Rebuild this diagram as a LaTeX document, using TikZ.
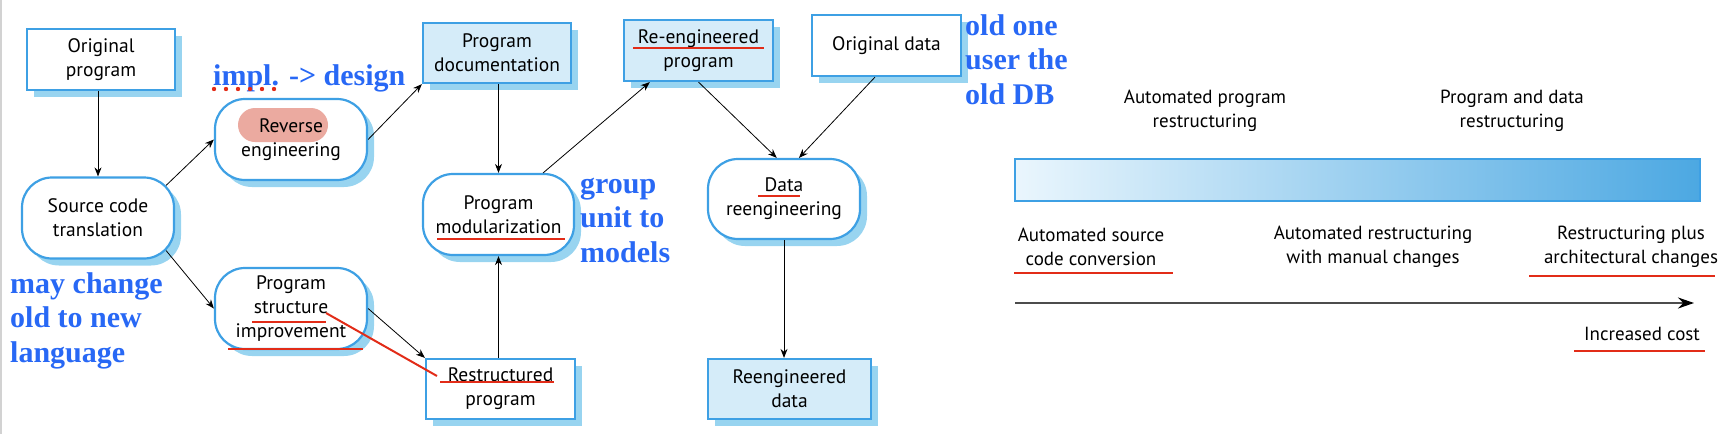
\documentclass[tikz,border=0pt]{standalone}
\usepackage{fontspec}
\setmainfont{PT Sans}
\newfontfamily\notefont{Liberation Serif}
\usetikzlibrary{arrows.meta, shadows}
\definecolor{boxblue}{RGB}{62,160,228}
\definecolor{shadeblue}{RGB}{152,212,240}
\definecolor{fillblue}{RGB}{213,236,249}
\definecolor{noteblue}{RGB}{40,104,245}
\definecolor{markred}{RGB}{226,44,24}
\definecolor{blobpink}{RGB}{235,170,160}
\definecolor{barleft}{RGB}{234,246,253}
\definecolor{barright}{RGB}{76,168,226}

\begin{document}
\begin{tikzpicture}[
  x=1pt, y=-1pt,
  >=Stealth,
  every node/.style={font=\fontsize{19.5}{24}\selectfont, align=center, inner sep=0pt},
  procbox/.style={draw=boxblue, line width=2.2pt, minimum width=149pt, minimum height=61pt,
    drop shadow={shadow xshift=7pt, shadow yshift=-7pt, fill=shadeblue, opacity=1}},
  docbox/.style={procbox, fill=fillblue},
  plainbox/.style={procbox, fill=white},
  roundbox/.style={procbox, fill=white, rounded corners=30pt, minimum width=152pt, minimum height=81pt},
  conn/.style={->, line width=0.8pt, >={Stealth[length=9pt, width=7pt]}},
  annot/.style={font=\notefont\bfseries\fontsize{30}{34.5}\selectfont, text=noteblue, align=left},
  scalelabel/.style={font=\fontsize{19}{24}\selectfont},
  redline/.style={markred, line width=2pt}
]
\useasboundingbox (0,0) rectangle (1724,434);
% frame edge
\draw[gray!35, line width=1.5pt] (1,0) -- (1,434);

% Process boxes
\node[plainbox, minimum width=148pt] (orig) at (101,59.5) {Original\\program};
\node[roundbox] (src) at (98,218) {Source code\\translation};
\node[roundbox, path picture={\fill[blobpink, rounded corners=17pt]
    ([xshift=-53pt, yshift=31.5pt]path picture bounding box.center) rectangle
    ([xshift=37pt, yshift=-2.5pt]path picture bounding box.center);}]
  (rev) at (291,139.5) {Reverse\\engineering};
\node[roundbox] (psi) at (291,308.5) {Program\\structure\\improvement};
\node[docbox, minimum width=148pt, minimum height=60pt] (doc) at (497,53) {Program\\documentation};
\node[roundbox, minimum width=151pt] (mod) at (498.5,214.5) {Program\\modularization};
\node[plainbox, minimum height=60pt] (rp) at (500.5,389) {Restructured\\program};
\node[docbox] (rep) at (698.5,50.5) {Re-engineered\\program};
\node[plainbox] (od) at (886.5,45.5) {Original data};
\node[roundbox, minimum height=80pt] (dre) at (784,199) {Data\\reengineering};
\node[docbox, minimum width=163pt, minimum height=60pt] (rd) at (789.5,389) {Reengineered\\data};

% Flow
\draw[conn] (src.north |- orig.south) -- (src.north);
\draw[conn] ([shift={(-9,9)}]src.north east) -- (rev.west);
\draw[conn] ([shift={(-9,-9)}]src.south east) -- (psi.west);
\draw[conn] (rev.east) -- (doc.south west);
\draw[conn] (psi.east) -- (rp.north west);
\draw[conn] (mod.north |- doc.south) -- (mod.north);
\draw[conn] (mod.south |- rp.north) -- (mod.south);
\draw[conn] (mod.43) -- (rep.213);
\draw[conn] (rep.south) -- (dre.100);
\draw[conn] (od.250) -- (dre.70);
\draw[conn] (dre.south) -- (dre.south |- rd.north);

% Handwritten notes (base = last line)
\node[annot, anchor=base west] (impl) at (213,85) {impl. -> design};
\node[annot, anchor=base west] (lang) at (10,362) {may change\\old to new\\language};
\node[annot, anchor=base west] (grp) at (580,262) {group\\unit to\\models};
\node[annot, anchor=base west] (olddb) at (965,104) {old one\\user the\\old DB};
\foreach \x in {214,226,...,274}
  \fill[markred] (\x,89) circle (2.2pt);
\draw[redline] (252,322) -- (326,322);
\draw[redline] (228,349) -- (363,349);
\draw[redline] (326,313) -- (437,376);
\draw[redline] (633,48) -- (764,48);
\draw[redline] (437,239) -- (565,239);
\draw[redline] (440,382) -- (554,382);
\draw[redline] (758,196) -- (800,196);

% Restructuring spectrum
\node[scalelabel] (apr) at (1205,111) {Automated program\\restructuring};
\node[scalelabel] (pdr) at (1512,111) {Program and data\\restructuring};
\node[draw=boxblue, line width=2pt, left color=barleft, right color=barright,
  minimum width=685pt, minimum height=42pt] (bar) at (1357.5,180) {};
\node[scalelabel] (asc) at (1091,247) {Automated source\\code conversion};
\node[scalelabel] (arm) at (1373,247) {Automated restructuring\\with manual changes};
\node[scalelabel] (rpa) at (1631,247) {Restructuring plus\\architectural changes};
\coordinate (costL) at (1015,303);
\coordinate (costR) at (1694,303);
\draw[black!70, line width=2pt, -{Stealth[length=16pt, width=11pt, black]}] (costL) -- (costR);
\node[scalelabel] (cost) at (1642,334) {Increased cost};
\draw[redline] (1014,273) -- (1173,273);
\draw[redline] (1529,276) -- (1715,276);
\draw[redline] (1574,351) -- (1705,351);

\end{tikzpicture}
\end{document}
